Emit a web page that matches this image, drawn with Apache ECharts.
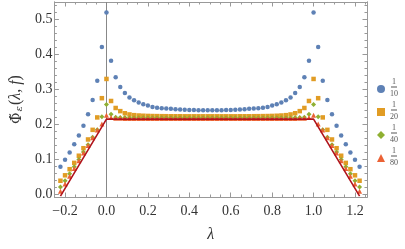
<!DOCTYPE html>
<html><head><meta charset="utf-8">
<script src="https://cdn.jsdelivr.net/npm/echarts@6/dist/echarts.min.js"></script>
<style>html,body{margin:0;padding:0;background:#fff}#c{width:405px;height:249px}</style>
</head><body><div id="c"></div>
<script>
// lambda sample points (step 1/45, from -10/45 to 55/45)
const lambda = [-0.2222,-0.2,-0.1778,-0.1556,-0.1333,-0.1111,-0.0889,-0.0667,-0.0444,-0.0222,0,
0.0222,0.0444,0.0667,0.0889,0.1111,0.1333,0.1556,0.1778,0.2,0.2222,0.2444,0.2667,0.2889,0.3111,0.3333,0.3556,0.3778,0.4,0.4222,0.4444,0.4667,0.4889,
0.5111,0.5333,0.5556,0.5778,0.6,0.6222,0.6444,0.6667,0.6889,0.7111,0.7333,0.7556,0.7778,0.8,0.8222,0.8444,0.8667,0.8889,0.9111,0.9333,0.9556,0.9778,1,
1.0222,1.0444,1.0667,1.0889,1.1111,1.1333,1.1556,1.1778,1.2,1.2222];

const phi10 = [0.078,0.098,0.119,0.142,0.167,0.195,0.228,0.269,0.324,0.420,0.519,
0.381,0.334,0.306,0.289,0.276,0.268,0.262,0.257,0.253,0.249,0.247,0.2455,0.2445,0.2435,0.2425,0.2418,0.241,0.2403,0.240,0.2398,0.2396,0.2395,
0.2395,0.2396,0.2398,0.240,0.2403,0.241,0.2418,0.2425,0.2435,0.2445,0.2455,0.247,0.249,0.253,0.257,0.262,0.268,0.276,0.289,0.306,0.334,0.381,0.519,
0.420,0.324,0.269,0.228,0.195,0.167,0.142,0.119,0.098,0.078];

const phi20 = [0.038,0.0535,0.071,0.089,0.1095,0.131,0.156,0.1835,0.219,0.274,0.329,
0.266,0.246,0.237,0.231,0.2275,0.2255,0.2245,0.2238,0.2233,0.223,0.2228,0.2226,0.2225,0.2224,0.2223,0.2223,0.2222,0.2222,0.2222,0.2222,0.2222,0.2222,
0.2222,0.2222,0.2222,0.2222,0.2222,0.2222,0.2223,0.2223,0.2224,0.2225,0.2226,0.2228,0.223,0.2233,0.2238,0.2245,0.2255,0.2275,0.231,0.237,0.246,0.266,0.329,
0.274,0.219,0.1835,0.156,0.131,0.1095,0.089,0.071,0.0535,0.038];

const phi40 = [0.020,0.038,0.058,0.078,0.099,0.120,0.141,0.162,0.184,0.221,0.256,
0.228,0.2195,0.2188,0.2185,0.2183,0.2182,0.2181,0.218,0.218,0.218,0.218,0.218,0.218,0.218,0.218,0.218,0.218,0.218,0.218,0.218,0.218,0.218,
0.218,0.218,0.218,0.218,0.218,0.218,0.218,0.218,0.218,0.218,0.218,0.218,0.218,0.218,0.218,0.2181,0.2182,0.2183,0.2185,0.2188,0.2195,0.228,0.256,
0.221,0.184,0.162,0.141,0.120,0.099,0.078,0.058,0.038,0.020];

const phi80 = [0.008,0.029,0.051,0.073,0.095,0.117,0.139,0.161,0.183,0.200,0.2255,
0.219,0.217,0.2165,0.216,0.216,0.216,0.216,0.216,0.216,0.216,0.216,0.216,0.216,0.216,0.216,0.216,0.216,0.216,0.216,0.216,0.216,0.216,
0.216,0.216,0.216,0.216,0.216,0.216,0.216,0.216,0.216,0.216,0.216,0.216,0.216,0.216,0.216,0.216,0.216,0.216,0.216,0.2165,0.217,0.219,0.2255,
0.200,0.183,0.161,0.139,0.117,0.095,0.073,0.051,0.029,0.008];

const limitLambda = [-0.2222, 0, 1, 1.2222];
const limitPhi = [-0.006, 0.2142, 0.2142, -0.006];

const xMajor = [-0.2,0,0.2,0.4,0.6,0.8,1.0,1.2];
const xMinor = [-0.25,-0.15,-0.1,-0.05,0.05,0.1,0.15,0.25,0.3,0.35,0.45,0.5,0.55,0.65,0.7,0.75,0.85,0.9,0.95,1.05,1.1,1.15,1.25];
const yMajor = [0,0.1,0.2,0.3,0.4,0.5];
const yMinor = [0.02,0.04,0.06,0.08,0.12,0.14,0.16,0.18,0.22,0.24,0.26,0.28,0.32,0.34,0.36,0.38,0.42,0.44,0.46,0.48,0.52,0.54];

const seriesNames = ['1/10','1/20','1/40','1/80'];
const denominators = ['10','20','40','80'];
const colors = ['#5E81B5','#E19C24','#8FB032','#EB6235'];
const symbols = ['circle','rect','diamond','triangle'];

const XMIN = -0.2514, XMAX = 1.258, YMIN = -0.0085, YMAX = 0.549;
const frame = '#999';
const serif = 'Liberation Serif';

function pts(ys){ return lambda.map((x,i)=>[x, ys[i]]); }
function fmt(v){ return (v < 0 ? '\u2212' : '') + Math.abs(v).toFixed(1); }

function xAx(pos, vals, len, labels){
  return {type:'value', position:pos, min:XMIN, max:XMAX, gridIndex:0,
    axisLine:{show:true, onZero:false, lineStyle:{color:frame, width:1}},
    axisTick:{show:true, inside:true, length:len, customValues:vals, lineStyle:{color:frame}},
    axisLabel:{show:labels, customValues:xMajor, formatter:fmt, margin:7, color:'#333', fontFamily:serif, fontSize:14},
    splitLine:{show:false}};
}
function yAx(pos, vals, len, labels){
  return {type:'value', position:pos, min:YMIN, max:YMAX, gridIndex:0,
    axisLine:{show:true, onZero:false, lineStyle:{color:frame, width:1}},
    axisTick:{show:true, inside:true, length:len, customValues:vals, lineStyle:{color:frame}},
    axisLabel:{show:labels, customValues:yMajor, formatter:v=>v.toFixed(1), margin:2, padding:[6,0,0,0], color:'#333', fontFamily:serif, fontSize:14},
    splitLine:{show:false}};
}

const xAxes = [xAx('bottom', xMajor, 4.5, true), xAx('bottom', xMinor, 2.5, false), xAx('top', xMajor, 4.5, false), xAx('top', xMinor, 2.5, false)];
xAxes[0].name = 'λ';
xAxes[0].nameLocation = 'middle';
xAxes[0].nameGap = 30;
xAxes[0].nameTextStyle = {fontFamily:serif, fontStyle:'italic', fontSize:16, color:'#333'};

const yAxes = [yAx('left', yMajor, 4.5, true), yAx('left', yMinor, 2.5, false), yAx('right', yMajor, 4.5, false), yAx('right', yMinor, 2.5, false)];
yAxes[0].name = '{a|Φ̃}{s|ε}{b|(}{i|λ}{b|, }{i|f}{b|)}';
yAxes[0].nameLocation = 'middle';
yAxes[0].nameRotate = 90;
yAxes[0].nameGap = 28;
yAxes[0].nameTextStyle = {fontFamily:serif, fontSize:16, color:'#333', rich:{
  a:{fontFamily:'DejaVu Serif', fontSize:14, lineHeight:18, color:'#333', verticalAlign:'bottom'},
  s:{fontFamily:'DejaVu Serif', fontStyle:'italic', fontSize:10, lineHeight:18, color:'#333', verticalAlign:'bottom', padding:[0,1,0,1]},
  b:{fontFamily:serif, fontSize:16, lineHeight:18, color:'#333', verticalAlign:'bottom'},
  i:{fontFamily:serif, fontSize:16, lineHeight:18, fontStyle:'italic', color:'#333', verticalAlign:'bottom'}}};

const scatterSeries = [phi10, phi20, phi40, phi80].map((d,i)=>({
  name: seriesNames[i], type:'scatter', xAxisIndex:0, yAxisIndex:0,
  data: pts(d), symbol: symbols[i], symbolSize: i===0 ? 4.5 : (i===1 ? 4.5 : 5),
  itemStyle:{color:colors[i], opacity:1}, silent:true, z: 2+i
}));

const legendTops = [78, 101, 124, 147];
const legends = seriesNames.map((n,i)=>({
  data:[{name:n, icon:symbols[i]}], orient:'vertical', left:377, top:legendTops[i],
  itemWidth:8, itemHeight:8, padding:0, selectedMode:false,
  formatter: ()=> '{n|1}\n{bar| }\n{d|' + denominators[i] + '}',
  textStyle:{color:'#555', rich:{
    n:{fontFamily:serif, fontSize:8, lineHeight:7, align:'center', color:'#555'},
    bar:{fontSize:1, lineHeight:3, width:6, height:1, backgroundColor:'#555', align:'center'},
    d:{fontFamily:serif, fontSize:8, lineHeight:11, align:'center', color:'#555'}}}
}));

const chart = echarts.init(document.getElementById('c'), null, {renderer:'canvas'});
chart.setOption({
  animation:false,
  backgroundColor:'#fff',
  grid:{left:47, right:38, top:2, bottom:52, show:false},
  legend: legends,
  xAxis: xAxes,
  yAxis: yAxes,
  series: scatterSeries.concat([
    {type:'line', name:'limit', xAxisIndex:0, yAxisIndex:0, data: limitLambda.map((x,i)=>[x, limitPhi[i]]),
     showSymbol:false, symbol:'none', lineStyle:{color:'#B0141C', width:1.6}, silent:true, z:10,
     markLine:{silent:true, symbol:'none', label:{show:false}, lineStyle:{color:'#888', width:1, type:'solid'},
       data:[{xAxis:0}], z:1}}
  ])
});
</script></body></html>
